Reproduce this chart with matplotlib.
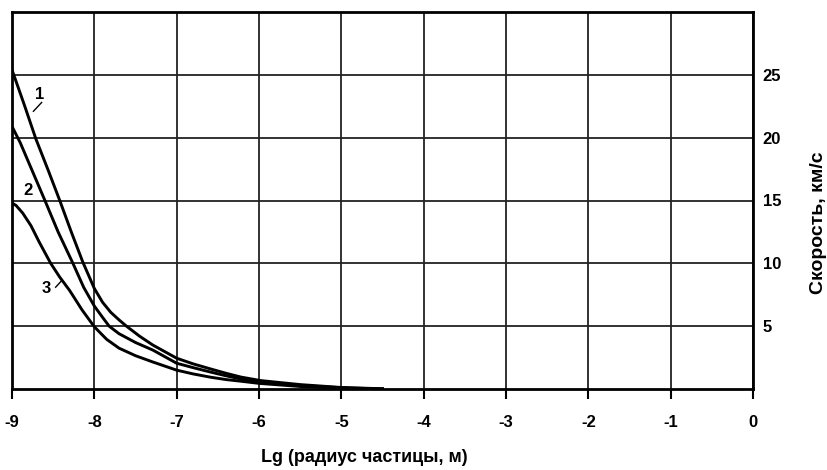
import matplotlib
matplotlib.use("Agg")
import matplotlib.pyplot as plt

# lg of particle radius (m) and speed (km/s)
x1 = [-9, -8.85, -8.71, -8.56, -8.42, -8.28, -8.14, -8.0, -7.9, -7.8, -7.7, -7.61, -7.45, -7.29, -7.0, -6.8, -6.59, -6.4, -6.22, -5.98, -5.5, -5.0, -4.5]
v1 = [25.4, 22.6, 19.9, 17.4, 15.0, 12.5, 10.1, 8.0, 6.9, 6.1, 5.5, 5.0, 4.2, 3.5, 2.45, 2.0, 1.6, 1.25, 0.95, 0.67, 0.35, 0.12, 0.02]

x2 = [-9, -8.9, -8.75, -8.6, -8.44, -8.26, -8.13, -8.0, -7.9, -7.82, -7.7, -7.5, -7.29, -7.0, -6.8, -6.59, -6.4, -6.22, -6.0, -5.5, -5.0, -4.5]
v2 = [20.9, 19.6, 17.3, 15.0, 12.5, 10.0, 8.1, 6.6, 5.7, 5.0, 4.4, 3.7, 3.1, 2.05, 1.7, 1.35, 1.05, 0.8, 0.55, 0.28, 0.1, 0.0]

x3 = [-9, -8.95, -8.87, -8.77, -8.67, -8.53, -8.42, -8.3, -8.15, -8.0, -7.85, -7.7, -7.5, -7.29, -7.0, -6.8, -6.59, -6.4, -6.22, -6.0, -5.5, -5.0, -4.5]
v3 = [14.8, 14.6, 14.0, 13.0, 11.7, 10.0, 8.9, 7.84, 6.3, 4.95, 3.95, 3.25, 2.65, 2.15, 1.5, 1.2, 0.94, 0.75, 0.62, 0.45, 0.2, 0.06, 0.0]

x_ticks = list(range(-9, 1))
y_ticks = [5, 10, 15, 20, 25]

plt.rcParams['font.family'] = ['Liberation Sans', 'DejaVu Sans']
plt.rcParams['font.weight'] = 'bold'
plt.rcParams['axes.labelweight'] = 'bold'

fig = plt.figure(figsize=(8.28, 4.70), dpi=100)
ax = fig.add_axes([12 / 828, 1 - 389 / 470, 741 / 828, 377 / 470])

for xs, vs in ((x1, v1), (x2, v2), (x3, v3)):
    ax.plot(xs, vs, color='black', lw=2.1, solid_joinstyle='round', zorder=3)

ax.set_xlim(-9, 0)
ax.set_ylim(0, 30)
ax.set_xticks(x_ticks)
ax.set_xticklabels([str(t) for t in x_ticks])
ax.set_yticks(y_ticks)
ax.set_yticklabels([str(t) for t in y_ticks])
ax.yaxis.tick_right()
ax.yaxis.set_label_position('right')

ax.grid(True, color='#222222', lw=1.3)
for s in ax.spines.values():
    s.set_linewidth(2.0)
    s.set_color('black')

ax.tick_params(axis='x', direction='out', length=7, width=1.5, pad=12, labelsize=12)
ax.tick_params(axis='y', length=0, pad=7, labelsize=12)

xl = ax.set_xlabel('Lg (радиус частицы, м)', fontsize=13)
xl.set_va('center')
ax.xaxis.set_label_coords(0.476, -0.183)
yl = ax.set_ylabel('Скорость, км/с', fontsize=14)
yl.set_va('center')
ax.yaxis.set_label_coords(1.088, 0.44)

# curve labels with small leaders
ax.text(-8.67, 23.4, '1', fontsize=12, ha='center', va='center')
ax.plot([-8.64, -8.74], [22.8, 22.1], color='black', lw=1)
ax.text(-8.81, 15.8, '2', fontsize=12, ha='center', va='center')
ax.text(-8.58, 8.0, '3', fontsize=12, ha='center', va='center')
ax.plot([-8.47, -8.40], [8.1, 8.6], color='black', lw=1)

fig.savefig('out.png', dpi=100)
